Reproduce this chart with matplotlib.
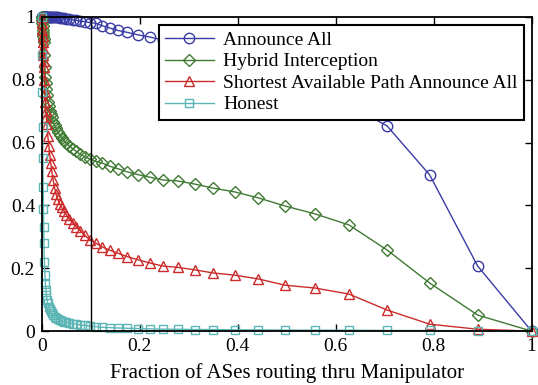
import matplotlib
matplotlib.use("Agg")
import matplotlib.pyplot as plt

# colours (MATLAB-ish)
c_blue = "#3a3ca6"
c_green = "#3f7a33"
c_red = "#cc2b2b"
c_cyan = "#5db5b5"

plt.rcParams['font.family'] = ['Liberation Serif', 'DejaVu Serif']
plt.rcParams['font.size'] = 14
plt.rcParams['xtick.direction'] = 'in'
plt.rcParams['ytick.direction'] = 'in'
plt.rcParams['xtick.top'] = True
plt.rcParams['ytick.right'] = True
plt.rcParams['axes.linewidth'] = 1.3

# fraction of ASes (x)
frac = [0, 0.0005, 0.001, 0.0015, 0.002, 0.0025, 0.003, 0.0035,
        0.004, 0.005, 0.006, 0.007, 0.008, 0.009, 0.010,
        0.012, 0.014, 0.016, 0.018, 0.020,
        0.023, 0.026, 0.029, 0.032,
        0.036, 0.040, 0.045, 0.050,
        0.056, 0.063, 0.070, 0.078, 0.087,
        0.098, 0.110, 0.123, 0.138, 0.155,
        0.174, 0.196, 0.220, 0.247, 0.277,
        0.312, 0.350, 0.394, 0.442, 0.497,
        0.558, 0.627, 0.705, 0.792, 0.890, 1.0]

announce_all = [1.0] * 24 + [
    0.998, 0.997, 0.996, 0.995,
    0.993, 0.991, 0.989, 0.987, 0.985,
    0.982, 0.980, 0.972, 0.965, 0.957,
    0.951, 0.943, 0.936, 0.927, 0.915,
    0.900, 0.885, 0.865, 0.840, 0.810,
    0.770, 0.720, 0.653, 0.497, 0.207, 0.0]

hybrid = [1.0, 0.99, 0.98, 0.97, 0.96, 0.95, 0.94, 0.93,
          0.92, 0.88, 0.84, 0.81, 0.79, 0.77, 0.75,
          0.73, 0.715, 0.70, 0.69, 0.68,
          0.665, 0.655, 0.645, 0.635,
          0.625, 0.615, 0.605, 0.598,
          0.59, 0.58, 0.572, 0.563, 0.555,
          0.548, 0.54, 0.535, 0.525, 0.517,
          0.507, 0.498, 0.49, 0.481, 0.478,
          0.468, 0.455, 0.443, 0.424, 0.398,
          0.373, 0.338, 0.258, 0.153, 0.051, 0.0]

shortest = [1.0, 0.98, 0.96, 0.94, 0.92, 0.90, 0.88, 0.86,
            0.84, 0.80, 0.76, 0.73, 0.70, 0.68, 0.66,
            0.62, 0.59, 0.56, 0.535, 0.51,
            0.48, 0.455, 0.435, 0.42,
            0.405, 0.395, 0.383, 0.37,
            0.356, 0.344, 0.332, 0.32, 0.305,
            0.29, 0.28, 0.268, 0.258, 0.248,
            0.237, 0.227, 0.217, 0.207, 0.203,
            0.195, 0.185, 0.178, 0.166, 0.146,
            0.137, 0.118, 0.067, 0.022, 0.006, 0.0]

honest = [1.0, 0.88, 0.76, 0.65, 0.55, 0.46, 0.39, 0.33,
          0.28, 0.22, 0.18, 0.15, 0.13, 0.115, 0.10,
          0.088, 0.078, 0.07, 0.063, 0.057,
          0.051, 0.046, 0.042, 0.039,
          0.036, 0.033, 0.03, 0.028,
          0.026, 0.024, 0.022, 0.02, 0.018,
          0.016, 0.014, 0.012, 0.011, 0.010,
          0.009, 0.008, 0.007, 0.006, 0.006,
          0.005, 0.005, 0.004, 0.004, 0.003,
          0.003, 0.003, 0.002, 0.002, 0.001, 0.0]

tick_vals = [0, 0.2, 0.4, 0.6, 0.8, 1]
tick_labels = ['0', '0.2', '0.4', '0.6', '0.8', '1']

fig = plt.figure(figsize=(5.38, 3.85), dpi=100)
ax = fig.add_subplot(1, 1, 1)

ms = 7.5
ax.plot(frac, announce_all, color=c_blue, marker='o', mfc='none', ms=ms,
        lw=1, mew=1, label='Announce All', clip_on=False)
ax.plot(frac, hybrid, color=c_green, marker='D', mfc='none', ms=ms * 0.8,
        lw=1, mew=1, label='Hybrid Interception', clip_on=False)
ax.plot(frac, shortest, color=c_red, marker='^', mfc='none', ms=ms,
        lw=1, mew=1, label='Shortest Available Path Announce All',
        clip_on=False)
ax.plot(frac, honest, color=c_cyan, marker='s', mfc='none', ms=ms * 0.85,
        lw=1, mew=1, label='Honest', clip_on=False)

# vertical marker line at 10%
ax.axvline(0.1, color='black', lw=1)

ax.set_xlim(0, 1)
ax.set_ylim(0, 1)
ax.set_xticks(tick_vals)
ax.set_xticklabels(tick_labels)
ax.set_yticks(tick_vals)
ax.set_yticklabels(tick_labels)
ax.tick_params(length=5, width=1, pad=5)

ax.set_xlabel('Fraction of ASes routing thru Manipulator', fontsize=15,
              labelpad=6)

leg = ax.legend(loc='upper right', bbox_to_anchor=(0.985, 0.975),
                borderaxespad=0, fancybox=False, framealpha=1,
                edgecolor='black', handlelength=2.5, labelspacing=0.2,
                borderpad=0.33, handletextpad=0.5)
leg.get_frame().set_linewidth(1.5)

plt.subplots_adjust(left=0.078, right=0.988, bottom=0.14, top=0.956)

plt.savefig('out.png', dpi=100)
